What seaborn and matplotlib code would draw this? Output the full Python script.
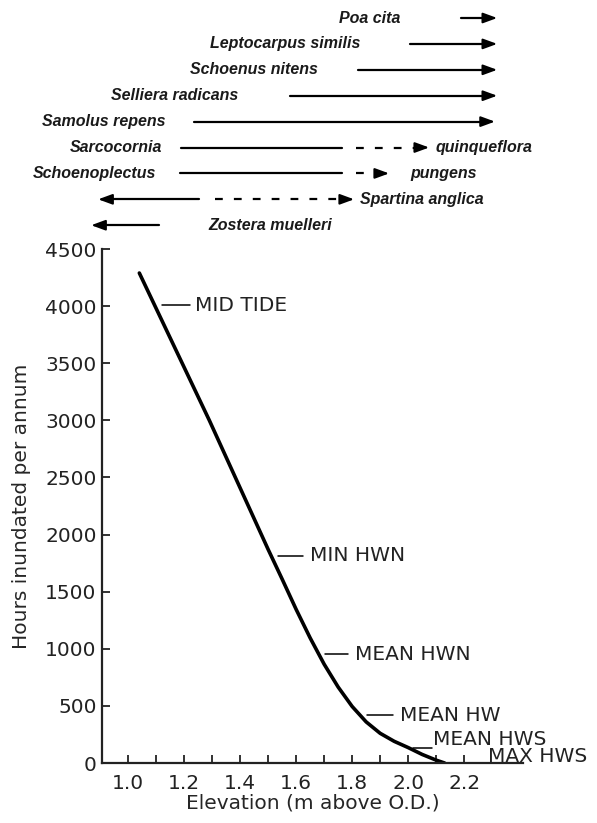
import numpy as np
import matplotlib
matplotlib.use('Agg')
import matplotlib.pyplot as plt
import seaborn as sns

# --- data ---
# inundation curve
elevation = [1.04, 1.29, 1.50, 1.55, 1.60, 1.65, 1.70, 1.75, 1.80, 1.85,
             1.90, 1.95, 2.00, 2.05, 2.10, 2.13]
hours = [4290, 3000, 1870, 1610, 1345, 1095, 865, 665, 495, 360,
         260, 190, 135, 75, 25, 0]

# tidal levels (short dash + label)
tide_labels = ['MID TIDE', 'MIN HWN', 'MEAN HWN', 'MEAN HW', 'MEAN HWS', 'MAX HWS']
tide_hours = [4010, 1813, 954, 420, 131, 0]
tide_dash_from = [1.121, 1.536, 1.704, 1.854, 2.018, np.nan]
tide_dash_to = [1.221, 1.625, 1.786, 1.946, 2.086, np.nan]
tide_text_x = [1.239, 1.650, 1.810, 1.971, 2.090, 2.286]

# species zonation (elevation, m above O.D.)
species_left = ['Poa cita', 'Leptocarpus similis', 'Schoenus nitens', 'Selliera radicans',
                'Samolus repens', 'Sarcocornia', 'Schoenoplectus', '', '']
species_left_x = [1.971, 1.829, 1.679, 1.393, 1.132, 1.121, 1.100, np.nan, np.nan]
species_right = ['', '', '', '', '', 'quinqueflora', 'pungens', 'Spartina anglica', 'Zostera muelleri']
species_right_x = [np.nan, np.nan, np.nan, np.nan, np.nan, 2.096, 2.007, 1.829, 1.286]
solid_from = [2.189, 2.007, 1.821, 1.579, 1.236, 1.189, 1.186, 0.893, 0.868]
solid_to = [2.318, 2.318, 2.318, 2.318, 2.310, 1.764, 1.764, 1.254, 1.111]
dash_from = [np.nan, np.nan, np.nan, np.nan, np.nan, 1.814, 1.814, 1.311, np.nan]
dash_to = [np.nan, np.nan, np.nan, np.nan, np.nan, 2.075, 1.932, 1.807, np.nan]
head_right = [2.318, 2.318, 2.318, 2.318, 2.310, 2.075, 1.932, 1.807, np.nan]
head_left = [np.nan, np.nan, np.nan, np.nan, np.nan, np.nan, np.nan, 0.893, 0.868]

x_major = [1.0, 1.2, 1.4, 1.6, 1.8, 2.0, 2.2]
x_minor = [1.1, 1.3, 1.5, 1.7, 1.9, 2.1]
y_ticks = [0, 500, 1000, 1500, 2000, 2500, 3000, 3500, 4000, 4500]

# --- style ---
sns.set_style('ticks')
plt.rcParams['font.family'] = ['DejaVu Sans']
plt.rcParams['text.color'] = '#222222'

fig = plt.figure(figsize=(5.97, 8.23), dpi=100)
ax = fig.add_axes([0.171, 0.0729, 0.705, 0.6245])
ax_top = fig.add_axes([0.171, 0.7084, 0.705, 0.2916])

# main curve
sns.lineplot(x=elevation, y=hours, ax=ax, color='black', linewidth=2.6)

ax.set_xlim(0.907, 2.41)
ax.set_ylim(0, 4500)
ax.set_xticks(x_major)
ax.set_xticklabels([f'{v:.1f}' for v in x_major])
ax.set_xticks(x_minor, minor=True)
ax.set_yticks(y_ticks)
ax.tick_params(which='both', direction='in', length=6, width=1.3, labelsize=14.5,
               colors='#222222')
ax.tick_params(axis='x', pad=8)
ax.tick_params(axis='y', pad=4)
for s in ['top', 'right']:
    ax.spines[s].set_visible(False)
for s in ['left', 'bottom']:
    ax.spines[s].set_linewidth(1.6)
    ax.spines[s].set_color('#222222')
ax.set_xlabel('Elevation (m above O.D.)', fontsize=14.5, labelpad=0)
ax.set_ylabel('Hours inundated per annum', fontsize=14.5, labelpad=10)

# tidal level marks
for lab, h, x0, x1, tx in zip(tide_labels, tide_hours, tide_dash_from, tide_dash_to, tide_text_x):
    if not np.isnan(x0):
        ax.plot([x0, x1], [h, h], color='black', linewidth=1.1, clip_on=False)
    if lab == 'MEAN HWS':
        ax.text(tx, h + 25, lab, fontsize=14.5, ha='left', va='baseline', clip_on=False)
    elif lab == 'MAX HWS':
        ax.text(tx, h + 5, lab, fontsize=14.5, ha='left', va='baseline', clip_on=False)
    else:
        ax.text(tx, h, lab, fontsize=14.5, ha='left', va='center', clip_on=False)

# species zonation panel
rows = np.arange(len(species_left))
ax_top.set_xlim(0.907, 2.41)
ax_top.set_ylim(8.57, -0.695)
ax_top.axis('off')

sp_font = dict(family=['Liberation Sans', 'DejaVu Sans'], fontsize=11.5,
               fontweight='bold', fontstyle='italic', color='#1a1a1a')
head = dict(arrowstyle='-|>,head_length=0.6,head_width=0.22', color='black',
            lw=1.5, shrinkA=0, shrinkB=0, mutation_scale=14)

for i in rows:
    if species_left[i]:
        ax_top.text(species_left_x[i], i, species_left[i], ha='right', va='center', **sp_font)
    if species_right[i]:
        ax_top.text(species_right_x[i], i, species_right[i], ha='left', va='center', **sp_font)
    right_has_dash = not np.isnan(dash_from[i])
    s_to = solid_to[i] - (0.04 if not right_has_dash and not np.isnan(head_right[i]) else 0)
    s_from = solid_from[i] + (0.04 if not np.isnan(head_left[i]) else 0)
    ax_top.plot([s_from, s_to], [i, i], color='black', linewidth=1.6, clip_on=False)
    if right_has_dash:
        ax_top.plot([dash_from[i], dash_to[i] - 0.045], [i, i], color='black', linewidth=1.6,
                    linestyle=(0, (3.5, 5)), clip_on=False)
    if not np.isnan(head_right[i]):
        ax_top.annotate('', xy=(head_right[i], i), xytext=(head_right[i] - 0.045, i),
                        arrowprops=head, annotation_clip=False)
    if not np.isnan(head_left[i]):
        ax_top.annotate('', xy=(head_left[i], i), xytext=(head_left[i] + 0.045, i),
                        arrowprops=head, annotation_clip=False)

plt.savefig('out.png', dpi=100)
